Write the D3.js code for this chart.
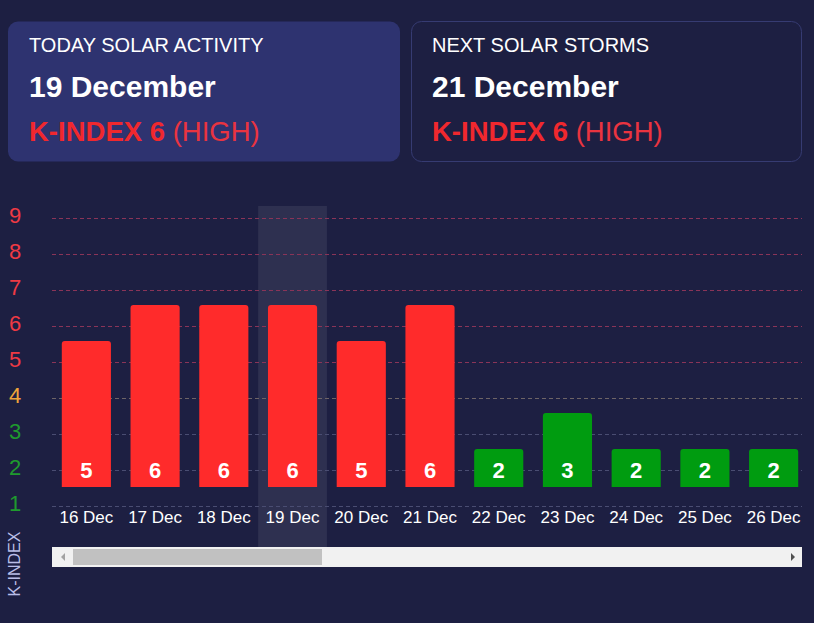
<!DOCTYPE html>
<html>
<head>
  <title>Solar Activity K-Index</title>
  <script src="https://d3js.org/d3.v7.min.js"></script>
  <style>
    body { margin: 0; background: #1d1f42; }
    svg { font-family: "Liberation Sans", Arial, sans-serif; display: block; }
  </style>
</head>
<body>
  <svg width="814" height="623"></svg>

  <script>
    const days = ['16 Dec', '17 Dec', '18 Dec', '19 Dec', '20 Dec', '21 Dec',
                  '22 Dec', '23 Dec', '24 Dec', '25 Dec', '26 Dec'];
    const kIndex = [5, 6, 6, 6, 5, 6, 2, 3, 2, 2, 2];
    const yTicks = [1, 2, 3, 4, 5, 6, 7, 8, 9];
    const today = '19 Dec';

    const cards = [
      { title: 'TODAY SOLAR ACTIVITY', date: '19 December', k: 6, level: 'HIGH' },
      { title: 'NEXT SOLAR STORMS', date: '21 December', k: 6, level: 'HIGH' }
    ];

    const svg = d3.select('svg');
    const red = '#ff2b2b';
    const green = '#009c10';
    const orange = '#f0a43a';
    const color = v => v >= 5 ? red : v === 4 ? orange : green;

    // Cards
    const cardX = [8, 411];
    cards.forEach((c, i) => {
      const g = svg.append('g').attr('transform', `translate(${cardX[i]},21)`);
      g.append('rect')
        .attr('width', i === 0 ? 392 : 390).attr('height', 140)
        .attr('rx', 10)
        .attr('fill', i === 0 ? '#2e3370' : 'none')
        .attr('stroke', i === 0 ? 'none' : '#363b72')
        .attr('stroke-width', 1)
        .attr('x', i === 0 ? 0 : 0.5).attr('y', 0.5);
      g.append('text').attr('x', 21).attr('y', 31)
        .attr('fill', '#fff').attr('font-size', 20).text(c.title);
      g.append('text').attr('x', 21).attr('y', 76)
        .attr('fill', '#fff').attr('font-size', 30).attr('font-weight', 'bold').text(c.date);
      const t = g.append('text').attr('x', 21).attr('y', 120).attr('font-size', 27.5);
      t.append('tspan').attr('fill', '#f0282e').attr('font-weight', 'bold').text(`K-INDEX ${c.k}`);
      t.append('tspan').attr('fill', '#ea3440').text(` (${c.level})`);
    });

    // Scales
    const x = d3.scaleBand()
      .domain(days)
      .range([52, 808])
      .paddingInner(0.285)
      .paddingOuter(0.1425);

    const yGrid = d3.scaleLinear().domain([1, 9]).range([506, 218]);
    const yBar = d3.scaleLinear().domain([0, 9]).range([521, 197]);
    const barBase = 487;

    // Highlight column for today
    const step = x.step();
    svg.append('rect')
      .attr('x', x(today) + x.bandwidth() / 2 - step / 2)
      .attr('y', 206)
      .attr('width', step)
      .attr('height', 342)
      .attr('fill', 'rgba(255,255,255,0.08)');

    // Grid lines
    svg.append('g').selectAll('line')
      .data(yTicks)
      .join('line')
      .attr('x1', 52).attr('x2', 802)
      .attr('y1', d => yGrid(d) + 0.5).attr('y2', d => yGrid(d) + 0.5)
      .attr('stroke', d => d >= 5 ? '#8a3458' : d === 4 ? '#6e6466' : '#4a4d72')
      .attr('stroke-dasharray', '4,3')
      .attr('stroke-width', 1);

    // Y labels
    svg.append('g').selectAll('text')
      .data(yTicks)
      .join('text')
      .attr('x', 15)
      .attr('y', d => yGrid(d) + 5)
      .attr('text-anchor', 'middle')
      .attr('font-size', 22)
      .attr('fill', d => d >= 5 ? '#ef3a44' : d === 4 ? orange : '#1f9a2e')
      .text(d => d);

    // Bars
    const bars = days.map((d, i) => ({ day: d, v: kIndex[i] }));
    svg.append('g').selectAll('path')
      .data(bars)
      .join('path')
      .attr('fill', d => color(d.v))
      .attr('d', d => {
        const x0 = x(d.day), w = x.bandwidth(), y0 = yBar(d.v), r = 3;
        return `M${x0},${barBase}V${y0 + r}Q${x0},${y0} ${x0 + r},${y0}` +
               `H${x0 + w - r}Q${x0 + w},${y0} ${x0 + w},${y0 + r}V${barBase}Z`;
      });

    // Value labels
    svg.append('g').selectAll('text')
      .data(bars)
      .join('text')
      .attr('x', d => x(d.day) + x.bandwidth() / 2)
      .attr('y', 478)
      .attr('text-anchor', 'middle')
      .attr('font-size', 22)
      .attr('font-weight', 'bold')
      .attr('fill', '#fff')
      .text(d => d.v);

    // X axis labels
    svg.append('g')
      .attr('transform', 'translate(0,523)')
      .call(d3.axisBottom(x).tickSize(0).tickPadding(0))
      .call(g => g.select('.domain').remove())
      .selectAll('text')
      .attr('dy', 0)
      .attr('font-size', 17)
      .attr('font-family', '"Liberation Sans", Arial, sans-serif')
      .attr('fill', '#fff');

    // Scrollbar
    svg.append('rect').attr('x', 52).attr('y', 547).attr('width', 750).attr('height', 20).attr('fill', '#f1f1f1');
    svg.append('rect').attr('x', 73).attr('y', 549).attr('width', 249).attr('height', 16).attr('fill', '#c1c1c1');
    svg.append('path').attr('d', 'M61,557L65,553V561Z').attr('fill', '#a3a3a3');
    svg.append('path').attr('d', 'M795,557L791,553V561Z').attr('fill', '#505050');

    // Y axis title
    svg.append('text')
      .attr('transform', 'translate(20,564) rotate(-90)')
      .attr('text-anchor', 'middle')
      .attr('font-size', 16)
      .attr('fill', '#b9bde6')
      .text('K-INDEX');
  </script>
</body>
</html>
